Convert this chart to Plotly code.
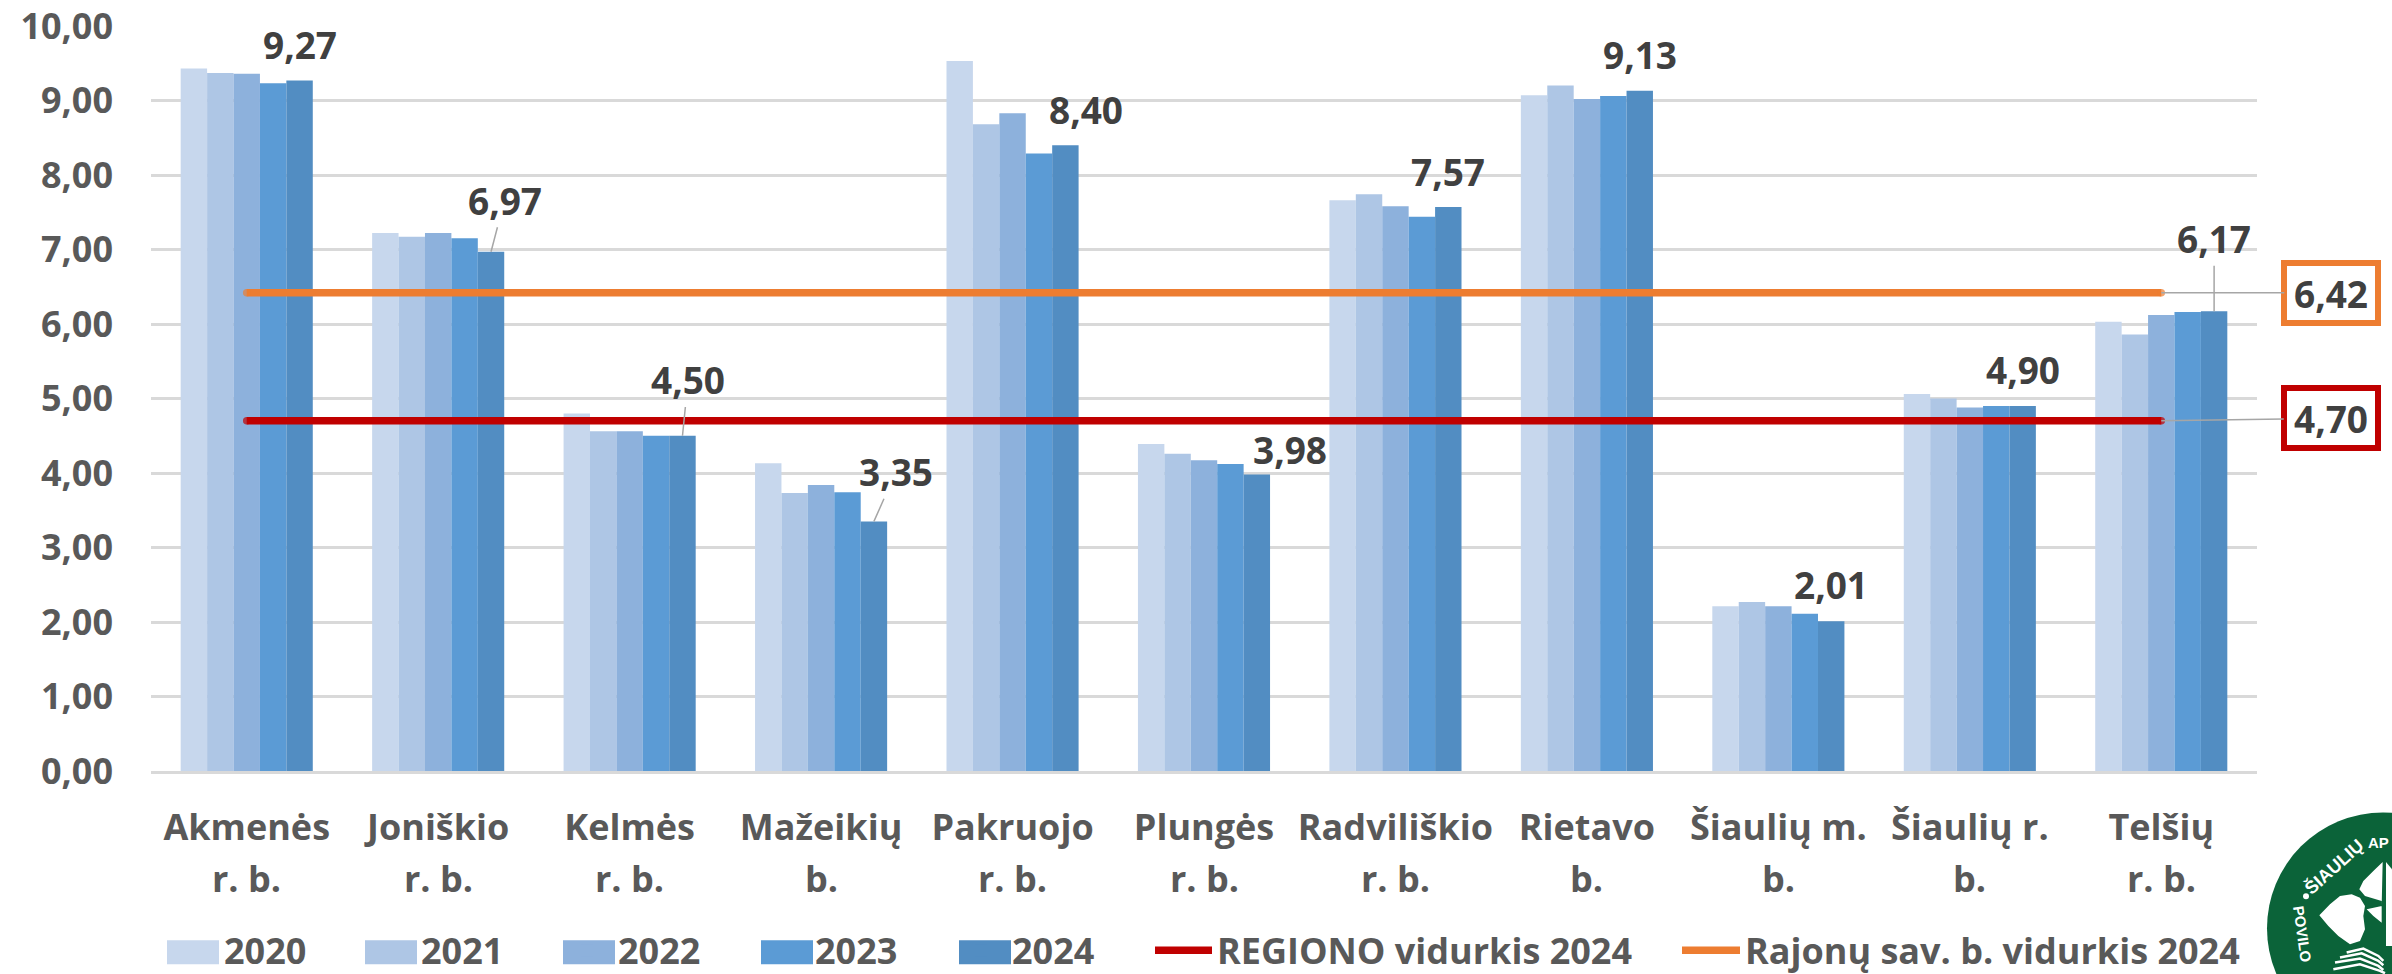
import plotly.graph_objects as go

categories = ["Akmenės", "Joniškio", "Kelmės", "Mažeikių", "Pakruojo", "Plungės", "Radviliškio", "Rietavo",
              "Šiaulių m.", "Šiaulių r.", "Telšių"]
category_line2 = ["r. b.", "r. b.", "r. b.", "b.", "r. b.", "r. b.", "r. b.", "b.", "b.", "b.", "r. b."]
v2020 = [9.43, 7.22, 4.80, 4.13, 9.53, 4.39, 7.66, 9.07, 2.21, 5.06, 6.03]
v2021 = [9.37, 7.17, 4.56, 3.73, 8.68, 4.26, 7.74, 9.20, 2.27, 5.00, 5.86]
v2022 = [9.36, 7.22, 4.56, 3.84, 8.83, 4.17, 7.58, 9.02, 2.21, 4.88, 6.12]
v2023 = [9.23, 7.15, 4.50, 3.74, 8.29, 4.12, 7.44, 9.06, 2.11, 4.90, 6.16]
v2024 = [9.27, 6.97, 4.50, 3.35, 8.40, 3.98, 7.57, 9.13, 2.01, 4.90, 6.17]
region_avg = [4.70] * 11
district_avg = [6.42] * 11
years = ["2020", "2021", "2022", "2023", "2024"]
bar_colors = ["#c7d7ed", "#aec6e5", "#8db1dc", "#5b9bd5", "#528dc2"]
ytick_vals = [0, 1, 2, 3, 4, 5, 6, 7, 8, 9, 10]
ytick_text = ["0,00", "1,00", "2,00", "3,00", "4,00", "5,00", "6,00", "7,00", "8,00", "9,00", "10,00"]
# label offset in px from the top of the 2024 bar (dx, dy)
label_offsets = [(0, -36), (13.5, -51.5), (5.6, -55.8), (22, -49.6), (21, -36), (33, -25), (0, -36), (0, -36),
                 (0, -36.5), (0, -36.4), (0, -72.7)]
leader_idx = (1, 2, 3, 10)

FONT = "Open Sans"
W, H = 2392, 974
L, R, T, B = 151, 135, 25.5, 202.5
px = lambda x: (x - L) / (W - L - R)
py = lambda y: 1 - (y - T) / (H - T - B)
bold = lambda size, color: dict(family=FONT, size=size, color=color, weight=700)

fig = go.Figure()
for name, vals, col in zip(years, [v2020, v2021, v2022, v2023, v2024], bar_colors):
    fig.add_trace(go.Bar(name=name, x=categories, y=vals, marker=dict(color=col, line=dict(width=0)), legend="legend"))
ends = [7.5] + [0] * 9 + [7.5]
fig.add_trace(go.Scatter(name="REGIONO vidurkis 2024", x=categories, y=region_avg, mode="lines+markers",
                         line=dict(color="#c00000", width=7.5), marker=dict(size=ends, color="#c00000", line_width=0), legend="legend2"))
fig.add_trace(go.Scatter(name="Rajonų sav. b. vidurkis 2024", x=categories, y=district_avg, mode="lines+markers",
                         line=dict(color="#ed7d31", width=7.5), marker=dict(size=ends, color="#ed7d31", line_width=0), legend="legend3"))

ann = []
for i, (v, (dx, dy)) in enumerate(zip(v2024, label_offsets)):
    ann.append(dict(x=i + 0.276, y=v, xref="x", yref="y", text=f"{v:.2f}".replace(".", ","),
                    showarrow=True, arrowhead=0, arrowwidth=1.5,
                    arrowcolor="#a6a6a6" if i in leader_idx else "rgba(0,0,0,0)",
                    ax=dx, ay=dy, axref="pixel", ayref="pixel", standoff=0, startstandoff=0,
                    font=bold(37, "#404040")))
for i, t in enumerate(category_line2):
    ann.append(dict(x=i, y=0, xref="x", yref="y", text=t, showarrow=False, xanchor="center", yanchor="middle",
                    yshift=-107.5, font=bold(36, "#595959")))
for val, col, dx, dy in [(6.42, "#ed7d31", 170, 0), (4.70, "#c00000", 169.5, -2.4)]:
    ann.append(dict(x=10, y=val, xref="x", yref="y", text=f"{val:.2f}".replace(".", ","),
                    showarrow=True, arrowhead=0, arrowwidth=1.5, arrowcolor="#a6a6a6", ax=dx, ay=dy,
                    axref="pixel", ayref="pixel", bgcolor="white", bordercolor=col, borderwidth=6, borderpad=0,
                    width=88, height=54, align="center", valign="middle", font=bold(37, "#404040")))

# logo (decoration cropped by the page edge)
GREEN = "#0b6339"
LX = lambda z: 2250 + z / 3
LY = lambda z: 790 + z / 3
def logo_path(points, close=True):
    s = ""
    for k, (a, b) in enumerate(points):
        s += ("M" if k == 0 else "L") + f"{px(LX(a)):.5f},{py(LY(b)):.5f} "
    return s + ("Z" if close else "")
shapes = []
for x0, col in zip([167, 365, 563, 761, 959], bar_colors):
    shapes.append(dict(type="rect", xref="paper", yref="paper", x0=px(x0), x1=px(x0 + 52), y0=py(965), y1=py(941),
                       fillcolor=col, line_width=0))
shapes.append(dict(type="circle", xref="paper", yref="paper", x0=px(2267), x1=px(2499), y0=py(1045), y1=py(813),
                   fillcolor=GREEN, line_width=0))
shapes.append(dict(type="circle", xref="paper", yref="paper", x0=px(2303), x1=px(2309), y0=py(900), y1=py(894),
                   fillcolor="white", line_width=0))
for pts in [
    [(208, 378), (240, 345), (270, 320), (305, 315), (330, 325), (345, 350), (340, 380), (345, 420), (330, 455), (300, 465), (265, 440), (235, 410)],
    [(398, 218), (370, 245), (340, 275), (328, 300), (345, 320), (395, 335), (395, 400), (370, 380), (350, 360), (395, 350)],
    [(408, 218), (426, 240), (426, 470), (408, 470)],
]:
    shapes.append(dict(type="path", xref="paper", yref="paper", path=logo_path(pts), fillcolor="white", line_width=0))
for pts in [
    [(290, 490), (340, 478), (385, 500), (400, 515)],
    [(270, 505), (335, 492), (385, 515), (400, 528)],
    [(255, 520), (330, 508), (385, 530), (400, 542)],
    [(250, 540), (330, 525), (390, 545), (405, 552)],
]:
    shapes.append(dict(type="path", xref="paper", yref="paper", path=logo_path(pts, False),
                       line=dict(color="white", width=2.5), fillcolor="rgba(0,0,0,0)"))
for text, zx, zy, angle, size in [("ŠIAULIŲ", 252, 232, -42, 18), ("AP", 385, 160, 0, 15), ("POVILO", 158, 435, 82, 15)]:
    ann.append(dict(x=px(LX(zx)), y=py(LY(zy)), xref="paper", yref="paper", text=text, showarrow=False,
                    textangle=angle, xanchor="center", yanchor="middle", font=dict(family="Liberation Sans", size=size, color="white", weight=700)))

legend_style = dict(orientation="h", y=py(951), yanchor="middle", xanchor="left", font=bold(36, "#595959"), bgcolor="rgba(0,0,0,0)")
fig.update_layout(
    width=W, height=H, margin=dict(l=L, r=R, t=T, b=B, autoexpand=False),
    paper_bgcolor="white", plot_bgcolor="white", barmode="group", bargap=0.31, bargroupgap=0,
    font=bold(36, "#595959"),
    annotations=ann, shapes=shapes,
    legend=dict(x=px(162), entrywidth=130, entrywidthmode="pixels", itemwidth=52, **legend_style),
    legend2=dict(x=px(1150), itemwidth=57, **legend_style),
    legend3=dict(x=px(1677), itemwidth=58, **legend_style),
    xaxis=dict(type="category", range=[-0.5, 10.5], showgrid=False, showline=True, linecolor="#d9d9d9", linewidth=3, ticks="", ticklabelstandoff=23,
               tickfont=bold(36, "#595959")),
    yaxis=dict(range=[0, 10], tickvals=ytick_vals, ticktext=ytick_text, showgrid=True, gridcolor="#d9d9d9", gridwidth=3,
               zeroline=False, showline=False, ticks="", ticklabelstandoff=37,
               tickfont=bold(36, "#595959")),
)
fig.write_html("out.html", config=dict(displayModeBar=False),
               post_script="document.body.style.margin='0';document.body.style.overflow='hidden';")
